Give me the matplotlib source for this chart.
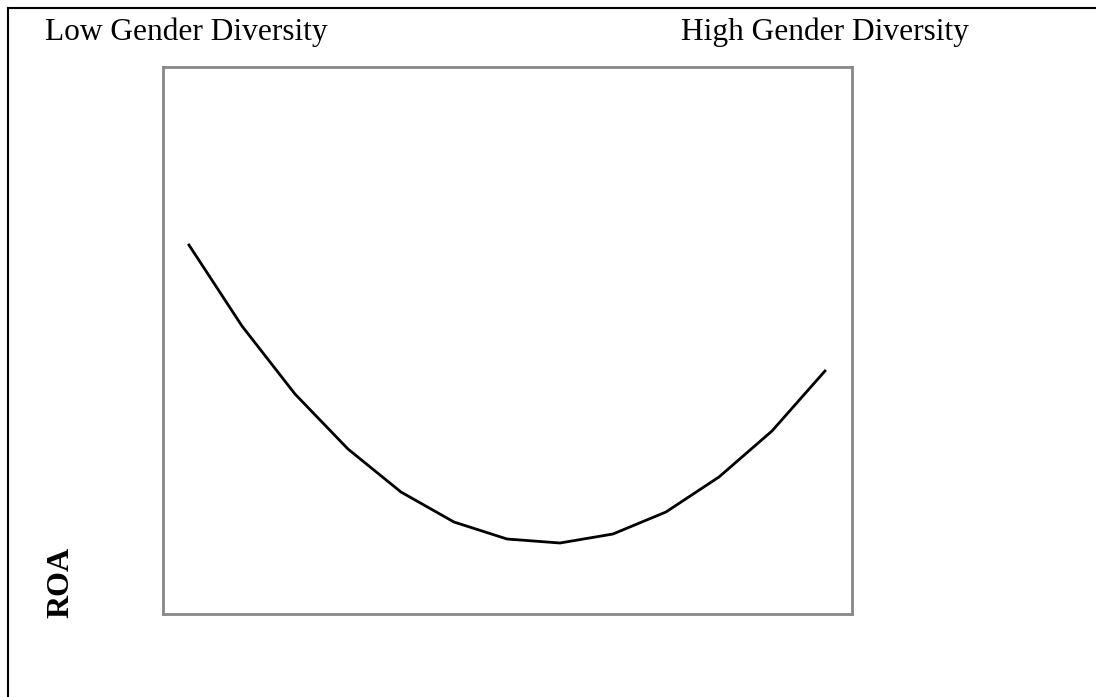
import matplotlib
matplotlib.use("Agg")
import matplotlib.pyplot as plt
from matplotlib.lines import Line2D

# Data (arbitrary ROA units)
diversity_steps = list(range(13))
roa_values = [369, 288, 220, 165, 122, 92, 75, 71, 80, 102, 137, 183, 243]
left_label = "Low Gender Diversity"
right_label = "High Gender Diversity"
y_label = "ROA"

W, H = 1096, 697
fig = plt.figure(figsize=(W / 100, H / 100), dpi=100)
fig.patch.set_facecolor("white")

ax = fig.add_axes([163 / W, (H - 614) / H, 689 / W, 547 / H])
ax.plot(diversity_steps, roa_values, color="black", linewidth=2.0)
ax.set_xlim(-0.49, 12.51)
ax.set_ylim(0, 547)
ax.set_xticks([])
ax.set_yticks([])
for s in ax.spines.values():
    s.set_color("#888888")
    s.set_linewidth(2.0)

serif = ["Liberation Serif", "DejaVu Serif"]
fig.text(45 / W, 1 - 40 / H, left_label, family=serif, fontsize=22.6,
         ha="left", va="baseline")
fig.text(969 / W, 1 - 40 / H, right_label, family=serif, fontsize=22.6,
         ha="right", va="baseline")
fig.text(61 / W, 1 - 582 / H, y_label, family=serif, fontsize=23, fontweight="bold",
         rotation=90, ha="center", va="center")

# outer frame lines (left and top)
fig.add_artist(Line2D([8 / W, 8 / W], [0, 1 - 8 / H], color="black", linewidth=1.5,
                      transform=fig.transFigure))
fig.add_artist(Line2D([8 / W, 1], [1 - 8 / H, 1 - 8 / H], color="black", linewidth=1.5,
                      transform=fig.transFigure))

fig.savefig("out.png", dpi=100)
